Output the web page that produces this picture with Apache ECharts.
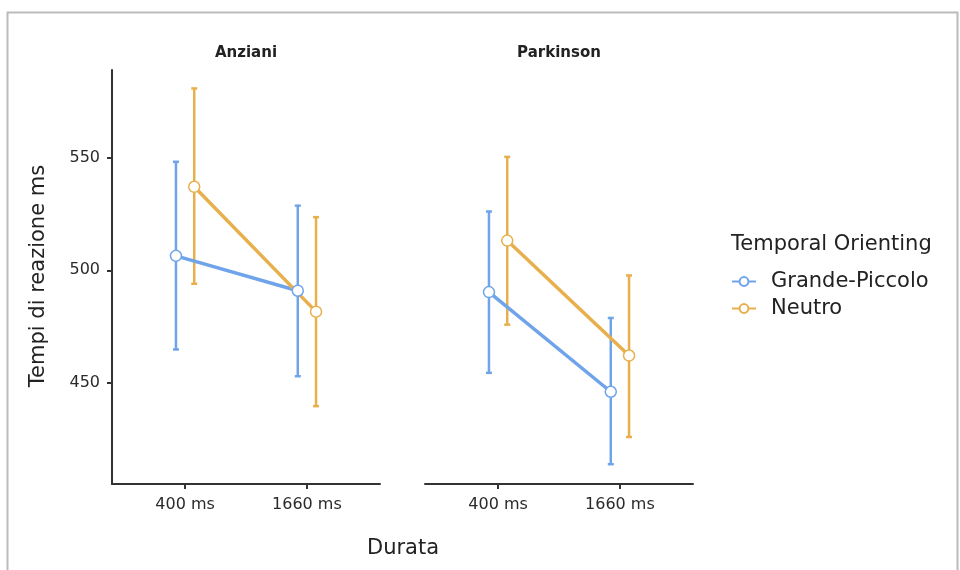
<!DOCTYPE html>
<html>
<head>
<meta charset="utf-8">
<script src="https://cdn.jsdelivr.net/npm/echarts@6/dist/echarts.min.js"></script>
<style>html,body{margin:0;padding:0;background:#fff}#c{width:960px;height:570px}</style>
</head>
<body>
<div id="c"></div>
<script>
const categories = ['400 ms', '1660 ms'];
const panels = ['Anziani', 'Parkinson'];
const groups = ['Grande-Piccolo', 'Neutro'];
const yTicks = [450, 500, 550];

const anzianiGP = [506.4, 490.9];
const anzianiGPLow = [464.8, 452.9];
const anzianiGPHigh = [548.2, 528.7];
const anzianiNE = [537.1, 481.6];
const anzianiNELow = [494.0, 439.6];
const anzianiNEHigh = [580.8, 523.6];

const parkGP = [490.3, 446.0];
const parkGPLow = [454.4, 413.8];
const parkGPHigh = [526.1, 478.8];
const parkNE = [513.2, 462.1];
const parkNELow = [475.8, 425.9];
const parkNEHigh = [550.4, 497.7];

const colors = ['#6fa4ea', '#e8b04c'];
const dodge = [-0.075, 0.075];
const FONT = 'DejaVu Sans, sans-serif';

const panelData = [
  [[anzianiGP, anzianiGPLow, anzianiGPHigh], [anzianiNE, anzianiNELow, anzianiNEHigh]],
  [[parkGP, parkGPLow, parkGPHigh], [parkNE, parkNELow, parkNEHigh]]
];

const series = [];
panelData.forEach((pd, p) => {
  pd.forEach((g, s) => {
    const [mean, low, high] = g;
    series.push({
      type: 'custom',
      name: groups[s] + ' err ' + p,
      xAxisIndex: p, yAxisIndex: p,
      z: 2,
      silent: true,
      data: mean.map((m, i) => [i + 1 + dodge[s], low[i], high[i]]),
      renderItem: function (params, api) {
        const x = api.value(0);
        const lo = api.coord([x, api.value(1)]);
        const hi = api.coord([x, api.value(2)]);
        const cw = 3;
        const st = { stroke: colors[s], lineWidth: 2.5 };
        return {
          type: 'group',
          children: [
            { type: 'line', shape: { x1: lo[0], y1: lo[1], x2: hi[0], y2: hi[1] }, style: st },
            { type: 'line', shape: { x1: hi[0] - cw, y1: hi[1], x2: hi[0] + cw, y2: hi[1] }, style: st },
            { type: 'line', shape: { x1: lo[0] - cw, y1: lo[1], x2: lo[0] + cw, y2: lo[1] }, style: st }
          ]
        };
      }
    });
    series.push({
      type: 'line',
      name: groups[s],
      xAxisIndex: p, yAxisIndex: p,
      z: 3,
      data: mean.map((m, i) => [i + 1 + dodge[s], m]),
      symbol: 'circle',
      symbolSize: 11,
      showSymbol: true,
      lineStyle: { color: colors[s], width: 3.5 },
      itemStyle: { color: '#fff', borderColor: colors[s], borderWidth: 1.5 },
      emphasis: { disabled: true },
      animation: false
    });
  });
});

const grids = [
  { left: 112, top: 70, width: 268, height: 414 },
  { left: 425, top: 70, width: 268, height: 414 }
];

const xAxes = grids.map((g, i) => ({
  type: 'value', gridIndex: i, min: 0.4, max: 2.6,
  axisLine: { show: true, lineStyle: { color: '#333', width: 2 } },
  axisTick: { show: true, customValues: [1, 2], length: 5, lineStyle: { color: '#333', width: 2 } },
  axisLabel: {
    customValues: [1, 2], formatter: v => categories[Math.round(v) - 1],
    color: '#2a2a2a', fontSize: 16, fontFamily: FONT, margin: 13
  },
  splitLine: { show: false }
}));

const yAxes = grids.map((g, i) => ({
  type: 'value', gridIndex: i, min: 405, max: 589,
  axisLine: { show: i === 0, onZero: false, lineStyle: { color: '#333', width: 2 } },
  axisTick: { show: i === 0, customValues: yTicks, length: 5, lineStyle: { color: '#333', width: 2 } },
  axisLabel: { show: i === 0, customValues: yTicks, color: '#2a2a2a', fontSize: 16, fontFamily: FONT, margin: 12 },
  splitLine: { show: false }
}));

const option = {
  backgroundColor: '#fff',
  animation: false,
  grid: grids,
  xAxis: xAxes,
  yAxis: yAxes,
  title: [
    { text: panels[0], left: 246, top: 46, padding: 0, textAlign: 'center', textStyle: { fontSize: 15, fontWeight: 'bold', color: '#222', fontFamily: FONT } },
    { text: panels[1], left: 559, top: 46, padding: 0, textAlign: 'center', textStyle: { fontSize: 15, fontWeight: 'bold', color: '#222', fontFamily: FONT } }
  ],
  legend: {
    data: groups,
    orient: 'vertical',
    left: 731, top: 271, padding: 0,
    itemWidth: 24, itemHeight: 11, itemGap: 6,
    textStyle: { fontSize: 21, color: '#222', fontFamily: FONT, padding: [0, 0, 0, 10] },
    selectedMode: false
  },
  graphic: [
    { type: 'rect', left: 5, top: 10, shape: { width: 950, height: 580 }, style: { fill: 'none', stroke: '#bbb', lineWidth: 2 }, z: 100, silent: true },
    { type: 'text', x: 731, y: 245, style: { text: 'Temporal Orienting', fontSize: 21, fill: '#222', fontFamily: FONT, textVerticalAlign: 'middle' } },
    { type: 'text', x: 403, y: 549, style: { text: 'Durata', fontSize: 21, fill: '#222', fontFamily: FONT, textAlign: 'center', textVerticalAlign: 'middle' } },
    { type: 'text', x: 39, y: 276, rotation: Math.PI / 2, style: { text: 'Tempi di reazione ms', fontSize: 21, fill: '#222', fontFamily: FONT, textAlign: 'center', textVerticalAlign: 'middle' } }
  ],
  series: series
};

const chart = echarts.init(document.getElementById('c'), null, { renderer: 'canvas' });
chart.setOption(option);
</script>
</body>
</html>
